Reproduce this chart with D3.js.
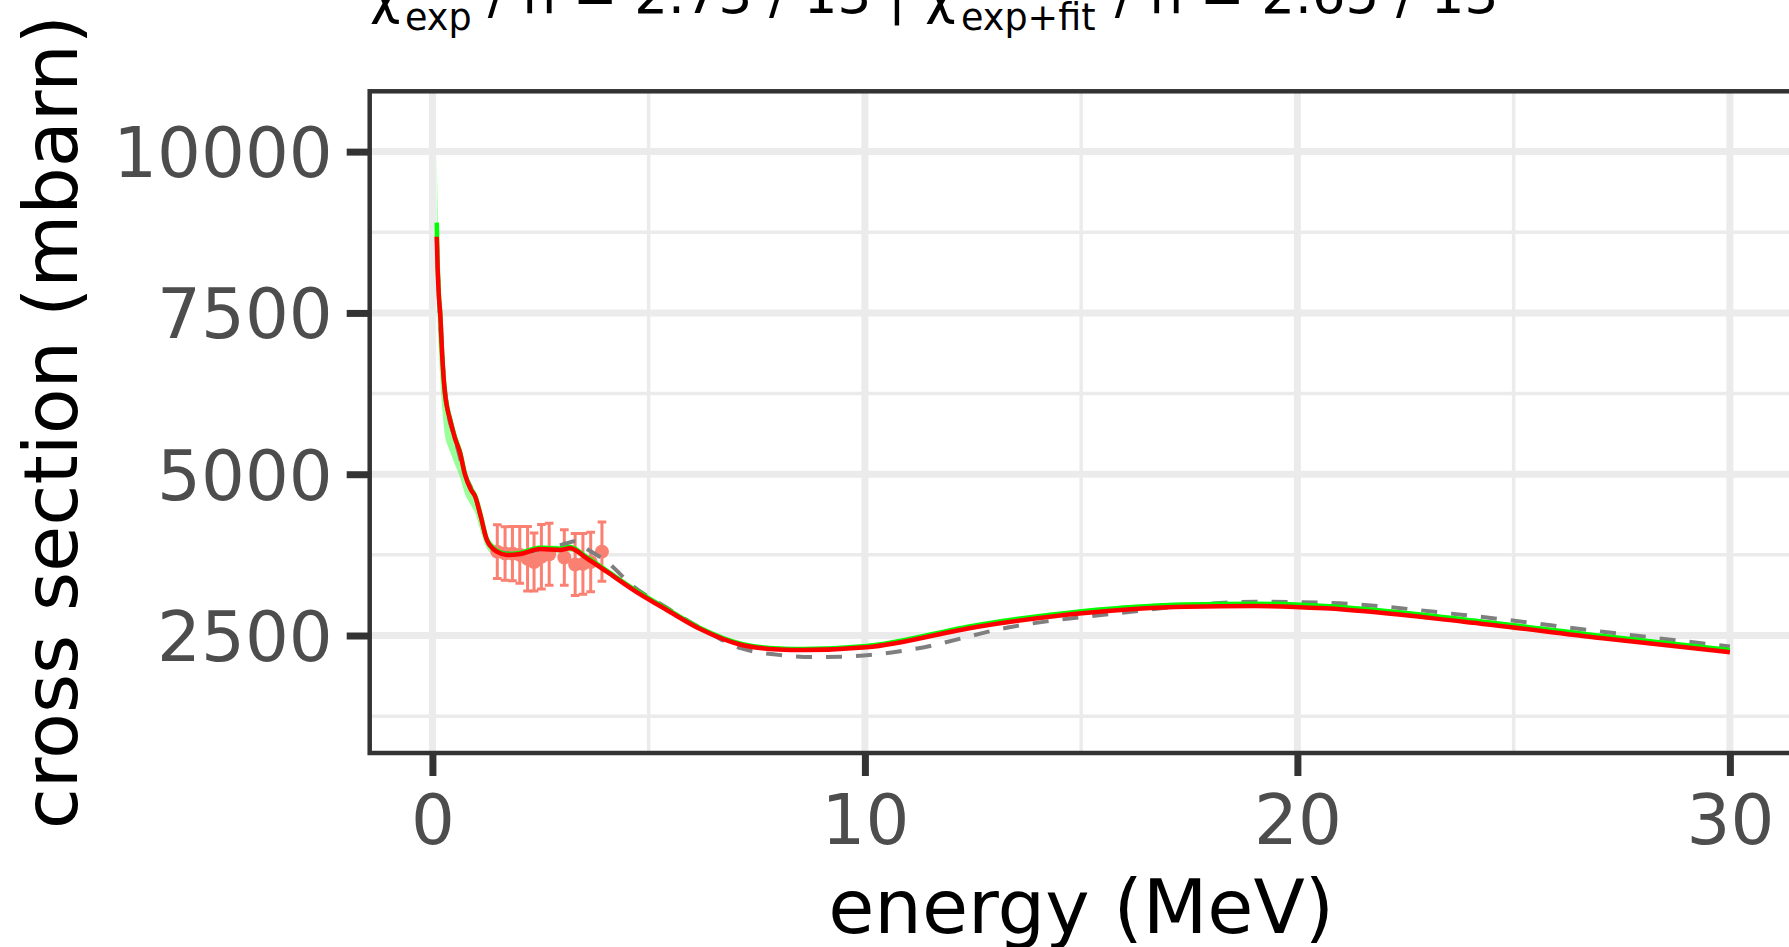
<!DOCTYPE html>
<html>
<head>
<meta charset="utf-8">
<script src="https://cdn.jsdelivr.net/npm/d3@7"></script>
<style>
  body { margin: 0; background: #fff; }
  svg { display: block; }
  text { font-family: "DejaVu Sans", sans-serif; white-space: pre; }
</style>
</head>
<body>
<svg id="chart"></svg>
<script>
// energy grid (MeV) for the fitted curves
const energy = [0.10, 0.12, 0.15, 0.18, 0.23, 0.29, 0.35, 0.41, 0.52, 0.64, 0.75, 0.89, 0.99, 1.10, 1.26, 1.49, 1.72, 2.03, 2.49, 2.95,
                3.18, 3.57, 4.03, 4.65, 5.42, 6.19, 7.15, 8.00, 8.59, 10.04, 12.61, 15.02, 17.43, 19.03, 20.64, 23.85, 27.06, 30.00];
// exp+fit result (red)
const fitRed = [8680, 8200, 7750, 7494, 6800, 6254, 6000, 5840, 5560, 5328, 5000, 4760, 4651, 4394, 3980, 3799, 3748, 3763, 3840, 3825,
                3851, 3697, 3489, 3205, 2895, 2600, 2353, 2285, 2275, 2317, 2637, 2844, 2946, 2957, 2921, 2714, 2456, 2240];
// exp-only result (green)
const fitGreen = [8900, 8300, 7780, 7510, 6815, 6270, 6015, 5855, 5575, 5345, 5015, 4775, 4665, 4410, 3995, 3815, 3765, 3780, 3860, 3845,
                  3870, 3715, 3505, 3222, 2912, 2615, 2368, 2300, 2292, 2338, 2665, 2878, 2982, 2993, 2957, 2750, 2492, 2275];
// uncertainty band
const bandLow = [8300, 7400, 6900, 6500, 6000, 5600, 5450, 5350, 5150, 4950, 4700, 4520, 4400, 4150, 3850, 3720, 3690, 3710, 3790, 3780,
                 3800, 3650, 3450, 3180, 2875, 2585, 2340, 2272, 2262, 2305, 2622, 2830, 2932, 2943, 2908, 2700, 2442, 2225];
const bandHigh = [10000, 9200, 8200, 7800, 7050, 6450, 6150, 6000, 5700, 5450, 5120, 4850, 4740, 4480, 4060, 3880, 3820, 3830, 3900, 3890,
                  3910, 3750, 3540, 3250, 2935, 2640, 2390, 2320, 2312, 2360, 2690, 2905, 3010, 3020, 2985, 2780, 2520, 2300];

// reference evaluation (grey dashed)
const refEnergy = [0.10, 0.15, 0.23, 0.35, 0.52, 0.75, 0.99, 1.26, 1.49, 2.03, 2.49, 2.80, 3.10, 3.30, 3.60, 4.00, 4.65, 5.42, 6.19, 7.15,
                   8.00, 8.80, 9.60, 11.00, 13.41, 15.82, 19.03, 20.64, 23.85, 27.06, 30.00];
const refXs = [8680, 7750, 6800, 6000, 5560, 5000, 4651, 3980, 3799, 3763, 3840, 3870, 3930, 3960, 3830, 3660, 3260, 2930, 2620, 2300,
               2200, 2165, 2175, 2275, 2637, 2844, 3024, 3008, 2818, 2559, 2330];

// experimental data
const expEnergy = [1.50, 1.68, 1.85, 2.02, 2.20, 2.35, 2.52, 2.70, 3.05, 3.30, 3.48, 3.66, 3.92];
const expXs = [3800, 3770, 3770, 3750, 3690, 3640, 3720, 3760, 3710, 3600, 3610, 3640, 3800];
const expErr = [415, 415, 420, 440, 500, 450, 500, 480, 430, 480, 470, 460, 460];

const xTicks = [0, 10, 20, 30];
const xMinor = [5, 15, 25];
const yTicks = [2500, 5000, 7500, 10000];
const yMinor = [1250, 3750, 6250, 8750];

// title pieces (the superscript 2 sits above the frame and is cut off)
const titleParts = ['χ', 'exp', ' / n = 2.73 / 13 |', 'χ', 'exp+fit', ' / n = 2.65 / 13'];
const titleSub = [false, true, false, false, true, false];

class CrossSectionPlot {
    constructor(config_, data_) {
        this.config = {
            svgElement: config_.svgElement,
            width: config_.width,
            height: config_.height,
            margin: config_.margin,
        };
        this.data = data_;
        this.initVis();
    }

    initVis() {
        const vis = this;

        vis.width = vis.config.width - vis.config.margin.left - vis.config.margin.right;
        vis.height = vis.config.height - vis.config.margin.top - vis.config.margin.bottom;

        vis.xScale = d3.scaleLinear()
            .domain([-1.45, 31.45])
            .range([0, vis.width]);

        vis.yScale = d3.scaleLinear()
            .domain([679, 10935])
            .range([vis.height, 0]);

        vis.xAxis = d3.axisBottom(vis.xScale)
            .tickValues(xTicks)
            .tickFormat(d3.format('d'))
            .tickSize(23)
            .tickPadding(19);

        vis.yAxis = d3.axisLeft(vis.yScale)
            .tickValues(yTicks)
            .tickFormat(d3.format('d'))
            .tickSize(23)
            .tickPadding(14);

        vis.svg = d3.select(vis.config.svgElement)
            .attr('width', vis.config.width)
            .attr('height', vis.config.height);

        vis.svg.append('rect')
            .attr('width', vis.config.width)
            .attr('height', vis.config.height)
            .attr('fill', '#fff');

        vis.chart = vis.svg.append('g')
            .attr('transform', `translate(${vis.config.margin.left},${vis.config.margin.top})`);

        vis.svg.append('defs').append('clipPath')
            .attr('id', 'panel-clip')
          .append('rect')
            .attr('width', vis.width)
            .attr('height', vis.height);

        vis.panel = vis.chart.append('g')
            .attr('clip-path', 'url(#panel-clip)');

        vis.xAxisG = vis.chart.append('g')
            .attr('class', 'axis x-axis')
            .attr('transform', `translate(0,${vis.height})`);

        vis.yAxisG = vis.chart.append('g')
            .attr('class', 'axis y-axis');

        vis.renderVis();
    }

    renderVis() {
        const vis = this;
        const d = vis.data;

        // grid
        vis.panel.selectAll('.grid-x-minor')
            .data(xMinor)
          .join('line')
            .attr('class', 'grid-x-minor')
            .attr('x1', v => vis.xScale(v)).attr('x2', v => vis.xScale(v))
            .attr('y1', 0).attr('y2', vis.height)
            .attr('stroke', '#EBEBEB').attr('stroke-width', 3.5);

        vis.panel.selectAll('.grid-y-minor')
            .data(yMinor)
          .join('line')
            .attr('class', 'grid-y-minor')
            .attr('y1', v => vis.yScale(v)).attr('y2', v => vis.yScale(v))
            .attr('x1', 0).attr('x2', vis.width)
            .attr('stroke', '#EBEBEB').attr('stroke-width', 3.5);

        vis.panel.selectAll('.grid-x')
            .data(xTicks)
          .join('line')
            .attr('class', 'grid-x')
            .attr('x1', v => vis.xScale(v)).attr('x2', v => vis.xScale(v))
            .attr('y1', 0).attr('y2', vis.height)
            .attr('stroke', '#EBEBEB').attr('stroke-width', 7);

        vis.panel.selectAll('.grid-y')
            .data(yTicks)
          .join('line')
            .attr('class', 'grid-y')
            .attr('y1', v => vis.yScale(v)).attr('y2', v => vis.yScale(v))
            .attr('x1', 0).attr('x2', vis.width)
            .attr('stroke', '#EBEBEB').attr('stroke-width', 7);

        // uncertainty band
        const area = d3.area()
            .x(p => vis.xScale(p.e))
            .y0(p => vis.yScale(p.lo))
            .y1(p => vis.yScale(p.hi))
            .curve(d3.curveMonotoneX);

        vis.panel.append('path')
            .datum(d.band)
            .attr('d', area)
            .attr('fill', '#00FF00')
            .attr('fill-opacity', 0.4);

        // experimental points
        const capHalf = 0.1;
        const bars = vis.panel.append('g').attr('class', 'exp');
        bars.selectAll('.bar')
            .data(d.exp)
          .join('path')
            .attr('class', 'bar')
            .attr('d', p => {
                const x = vis.xScale(p.e), x0 = vis.xScale(p.e - capHalf), x1 = vis.xScale(p.e + capHalf);
                const yt = vis.yScale(p.v + p.err), yb = vis.yScale(p.v - p.err);
                return `M${x0},${yt}H${x1}M${x},${yt}V${yb}M${x0},${yb}H${x1}`;
            })
            .attr('fill', 'none')
            .attr('stroke', '#FA8072')
            .attr('stroke-width', 3);

        bars.selectAll('circle')
            .data(d.exp)
          .join('circle')
            .attr('cx', p => vis.xScale(p.e))
            .attr('cy', p => vis.yScale(p.v))
            .attr('r', 7)
            .attr('fill', '#FA8072');

        const line = d3.line()
            .x(p => vis.xScale(p.e))
            .y(p => vis.yScale(p.v))
            .curve(d3.curveMonotoneX);

        vis.panel.append('path')
            .datum(d.ref)
            .attr('d', line)
            .attr('fill', 'none')
            .attr('stroke', '#7F7F7F')
            .attr('stroke-width', 4)
            .attr('stroke-dasharray', '16,14');

        vis.panel.append('path')
            .datum(d.green)
            .attr('d', line)
            .attr('fill', 'none')
            .attr('stroke', '#00FF00')
            .attr('stroke-width', 4.5);

        vis.panel.append('path')
            .datum(d.red)
            .attr('d', line)
            .attr('fill', 'none')
            .attr('stroke', '#FF0000')
            .attr('stroke-width', 4.5);

        // panel border
        vis.chart.append('rect')
            .attr('width', vis.width)
            .attr('height', vis.height)
            .attr('fill', 'none')
            .attr('stroke', '#333333')
            .attr('stroke-width', 4.5);

        // axes
        vis.xAxisG.call(vis.xAxis)
            .call(g => g.select('.domain').remove());
        vis.yAxisG.call(vis.yAxis)
            .call(g => g.select('.domain').remove());

        vis.chart.selectAll('.axis .tick line')
            .attr('stroke', '#333333')
            .attr('stroke-width', 7);
        vis.chart.selectAll('.axis .tick text')
            .attr('fill', '#4D4D4D')
            .style('font-size', '69px');
        vis.yAxisG.selectAll('.tick text').attr('dy', '0.36em');

        // axis titles
        vis.chart.append('text')
            .attr('x', vis.width / 2)
            .attr('y', 932.7 - vis.config.margin.top)
            .attr('text-anchor', 'middle')
            .style('font-size', '75px')
            .attr('fill', '#000')
            .text('energy (MeV)');

        vis.svg.append('text')
            .attr('transform', `translate(77,${vis.config.margin.top + vis.height / 2}) rotate(-90)`)
            .attr('text-anchor', 'middle')
            .style('font-size', '75px')
            .attr('fill', '#000')
            .text('cross section (mbarn)');

        // title, plotmath-like: chi with subscript
        const titleX = [369.7, 405, 471, 925, 961, 1098];
        const baseY = 12.5, subY = 30;
        titleParts.forEach((t, i) => {
            vis.svg.append('text')
                .attr('x', titleX[i])
                .attr('y', titleSub[i] ? subY : baseY)
                .style('font-size', titleSub[i] ? '36.5px' : '53px')
                .attr('fill', '#000')
                .text(t);
        });
    }
}

const plotData = {
    red: energy.map((e, i) => ({ e: e, v: fitRed[i] })),
    green: energy.map((e, i) => ({ e: e, v: fitGreen[i] })),
    band: energy.map((e, i) => ({ e: e, lo: bandLow[i], hi: bandHigh[i] })),
    ref: refEnergy.map((e, i) => ({ e: e, v: refXs[i] })),
    exp: expEnergy.map((e, i) => ({ e: e, v: expXs[i], err: expErr[i] })),
};

new CrossSectionPlot({
    svgElement: '#chart',
    width: 1789,
    height: 947,
    margin: { top: 91.3, right: -3.6, bottom: 194, left: 369.7 },
}, plotData);
</script>
</body>
</html>
